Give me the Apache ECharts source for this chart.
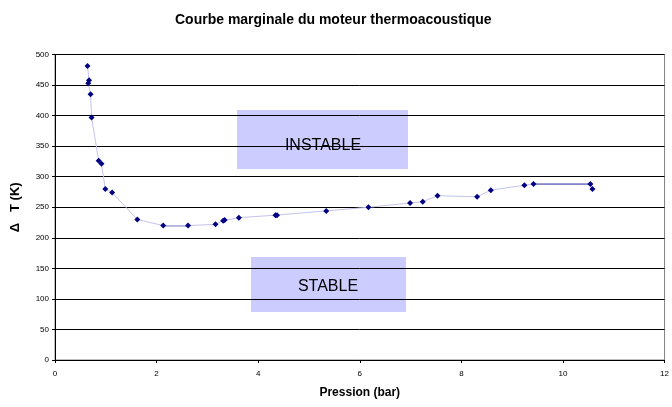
<!DOCTYPE html>
<html>
<head>
<meta charset="utf-8">
<script src="https://cdn.jsdelivr.net/npm/echarts@6/dist/echarts.min.js"></script>
<style>
  html, body { margin: 0; padding: 0; background: #fff; }
  #chart { width: 672px; height: 407px; }
</style>
</head>
<body>
<div id="chart"></div>
<script>
// mesures : pression (bar) et delta T (K)
const pression = [0.64, 0.67, 0.655, 0.70, 0.72, 0.86, 0.915, 0.99, 1.125, 1.62, 2.13, 2.62, 3.16, 3.31, 3.34, 3.62, 4.34, 4.37, 5.34, 6.17, 6.99, 7.24, 7.53, 8.31, 8.58, 9.24, 9.42, 10.54, 10.58];
const deltaT = [481, 458, 453, 435, 397, 326, 321, 280, 274, 230, 220, 220, 222, 228, 229, 233, 237, 237, 244, 250, 257, 259, 269, 267, 278, 286, 288, 288, 280];
// segments tracés en foncé
const segPression = [2.13, 2.62, null, 9.42, 10.54];
const segDeltaT = [220, 220, null, 288, 288];
const xTicks = [0, 2, 4, 6, 8, 10, 12];
const yTicks = [0, 50, 100, 150, 200, 250, 300, 350, 400, 450, 500];

const points = pression.map((p, i) => [p, deltaT[i]]);
const segments = segPression.map((p, i) => p === null ? null : [p, segDeltaT[i]]);

const font = 'Liberation Sans, Arial, sans-serif';

const chart = echarts.init(document.getElementById('chart'));
chart.setOption({
  animation: false,
  backgroundColor: '#fff',
  title: {
    text: 'Courbe marginale du moteur thermoacoustique',
    left: 170,
    top: 8,
    textStyle: { fontFamily: font, fontSize: 14, fontWeight: 'bold', color: '#000' }
  },
  grid: {
    left: 55, right: 4, top: 54.5, bottom: 47,
    show: true, borderColor: '#808080', borderWidth: 1
  },
  xAxis: {
    type: 'value',
    min: xTicks[0], max: xTicks[xTicks.length - 1], interval: 2,
    name: 'Pression (bar)',
    nameLocation: 'middle',
    nameGap: 27,
    nameTextStyle: { fontFamily: font, fontSize: 12, fontWeight: 'bold', color: '#000' },
    axisLine: { lineStyle: { color: '#000', width: 1 } },
    axisTick: { length: 3, lineStyle: { color: '#000' } },
    axisLabel: { fontFamily: font, fontSize: 8, color: '#000', margin: 10 },
    splitLine: { show: false }
  },
  yAxis: {
    type: 'value',
    min: yTicks[0], max: yTicks[yTicks.length - 1], interval: 50,
    name: 'Δ   T (K)',
    nameLocation: 'middle',
    nameGap: 33,
    nameTextStyle: { fontFamily: font, fontSize: 13, fontWeight: 'bold', color: '#000' },
    axisLine: { show: true, lineStyle: { color: '#000', width: 1 } },
    axisTick: { show: true, length: 3, lineStyle: { color: '#000' } },
    axisLabel: { fontFamily: font, fontSize: 8, color: '#000', margin: 6 },
    splitLine: { lineStyle: { color: '#000', width: 1 } }
  },
  series: [
    {
      type: 'line',
      data: points,
      symbol: 'diamond',
      symbolSize: 6,
      lineStyle: { color: '#c4c4ec', width: 1 },
      itemStyle: { color: '#000080' },
      z: 3
    },
    {
      type: 'line',
      data: segments,
      symbol: 'none',
      connectNulls: false,
      lineStyle: { color: '#000080', width: 1.3 },
      z: 2
    }
  ],
  graphic: [
    {
      type: 'group',
      z: 100,
      children: [
        {
          type: 'rect',
          shape: { x: 237, y: 110, width: 171, height: 59 },
          style: { fill: '#ccccff' }
        },
        {
          type: 'text',
          x: 323, y: 146,
          style: { text: 'INSTABLE', font: '16px ' + font, fill: '#000', align: 'center', verticalAlign: 'middle' }
        },
        {
          type: 'rect',
          shape: { x: 251, y: 257, width: 155, height: 55 },
          style: { fill: '#ccccff' }
        },
        {
          type: 'text',
          x: 328, y: 287,
          style: { text: 'STABLE', font: '16px ' + font, fill: '#000', align: 'center', verticalAlign: 'middle' }
        }
      ]
    }
  ]
});
</script>
</body>
</html>
